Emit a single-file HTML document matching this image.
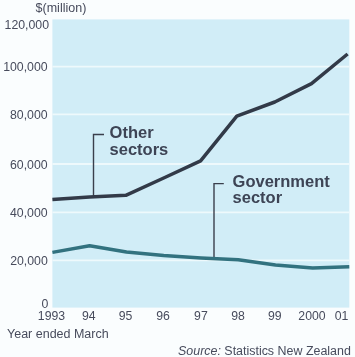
<!DOCTYPE html>
<html><head><meta charset="utf-8">
<style>
html,body{margin:0;padding:0;background:#fafdfe;}
svg{display:block;will-change:transform;}
text{font-family:"Liberation Sans",sans-serif;}
</style></head><body>
<svg width="355" height="357" viewBox="0 0 355 357">
<rect x="0" y="0" width="355" height="357" fill="#fafdfe"/>
<rect x="52.4" y="19.4" width="296.9" height="288.2" fill="#d1edf7"/>
<g stroke="#eef9fc" stroke-width="1.8">
<line x1="52.4" y1="66.7" x2="349.3" y2="66.7"/>
<line x1="52.4" y1="114.4" x2="349.3" y2="114.4"/>
<line x1="52.4" y1="164" x2="349.3" y2="164"/>
<line x1="52.4" y1="212.4" x2="349.3" y2="212.4"/>
<line x1="52.4" y1="260.3" x2="349.3" y2="260.3"/>
</g>
<g fill="#474b5c" font-size="12.3" text-anchor="end">
<text x="49" y="28.6">120,000</text>
<text x="47.6" y="70.6">100,000</text>
<text x="47.6" y="119.3">80,000</text>
<text x="47.6" y="168.6">60,000</text>
<text x="47.6" y="216.6">40,000</text>
<text x="47.8" y="264.6">20,000</text>
<text x="48.3" y="307.5">0</text>
</g>
<text x="35.6" y="12" fill="#474b5c" font-size="12.5">$(million)</text>
<g fill="#474b5c" font-size="12.25" text-anchor="middle">
<text x="51.5" y="320.4">1993</text>
<text x="88.7" y="320.4">94</text>
<text x="125.6" y="320.4">95</text>
<text x="163" y="320.4">96</text>
<text x="200.9" y="320.4">97</text>
<text x="238" y="320.4">98</text>
<text x="274.7" y="320.4">99</text>
<text x="312" y="320.4">2000</text>
<text x="341.6" y="320.4">01</text>
</g>
<text x="7" y="338" fill="#474b5c" font-size="12.5">Year ended March</text>
<text x="178" y="354.5" fill="#474b5c" font-size="12.45"><tspan font-style="italic">Source:</tspan> Statistics New Zealand</text>
<!-- leaders -->
<g stroke="#3a3f4c" stroke-width="1.4" fill="none">
<polyline points="104,134.5 93.5,134.5 93.5,197"/>
<polyline points="223.8,183.6 214,183.6 214,257"/>
</g>
<polyline fill="none" stroke="#32727f" stroke-width="3.5" stroke-linejoin="round" points="52.4,252.4 89.6,245.8 126.5,252 163.7,255.5 201,258 238.2,259.8 275.5,264.9 312.7,267.9 349.3,266.7"/>
<polyline fill="none" stroke="#323a48" stroke-width="3.5" stroke-linejoin="round" points="52.4,199.4 89.5,196.9 125.8,195.3 163.7,178 200.6,160.9 236.8,116.2 274.8,102 311.5,83.6 347.6,54"/>
<g fill="#3d4455" font-size="16.5" font-weight="bold">
<text x="109.6" y="138.25">Other</text>
<text x="109.6" y="154.6">sectors</text>
<text x="232.6" y="187">Government</text>
<text x="232.6" y="203.4">sector</text>
</g>
</svg>
</body></html>
